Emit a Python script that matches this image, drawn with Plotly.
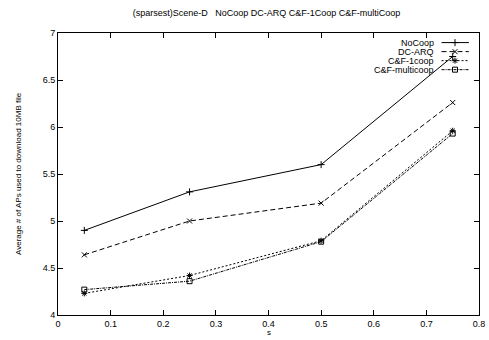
import plotly.graph_objects as go

s_vals = [0.05, 0.25, 0.5, 0.75]
nocoop = [4.90, 5.31, 5.60, 6.75]
dcarq = [4.64, 5.00, 5.19, 6.26]
cf_1coop = [4.23, 4.42, 4.79, 5.96]
cf_multicoop = [4.27, 4.36, 4.78, 5.93]

names = ["NoCoop", "DC-ARQ", "C&F-1coop", "C&F-multicoop"]
series = [nocoop, dcarq, cf_1coop, cf_multicoop]
symbols = ["cross-thin-open", "x-thin-open", "asterisk-open", "square-open"]
dashes = ["solid", "5px,3px", "2px,2px", "3px,1px,1px,1px"]
xticks = [0, 0.1, 0.2, 0.3, 0.4, 0.5, 0.6, 0.7, 0.8]
yticks = [4, 4.5, 5, 5.5, 6, 6.5, 7]

FONT = "Liberation Sans, Arial, sans-serif"
fig = go.Figure()
for n, ys, sym, d in zip(names, series, symbols, dashes):
    fig.add_trace(go.Scatter(x=s_vals, y=ys, mode="lines+markers", name=n,
                             line=dict(color="black", width=1, dash=d),
                             marker=dict(symbol=sym, size=5, color="black",
                                         line=dict(color="black", width=1)),
                             showlegend=False))

# gnuplot-style key (text right, sample on the right)
leg_y = [0.966, 0.934, 0.902, 0.870]
for n, sym, d, ly in zip(names, symbols, dashes, leg_y):
    fig.add_trace(go.Scatter(x=[0.911, 0.943, 0.976], y=[ly, ly, ly], xaxis="x2", yaxis="y2",
                             mode="lines", line=dict(color="black", width=1, dash=d),
                             showlegend=False, hoverinfo="skip"))
    fig.add_trace(go.Scatter(x=[0.943], y=[ly], xaxis="x2", yaxis="y2", mode="markers",
                             marker=dict(symbol=sym, size=5, color="black",
                                         line=dict(color="black", width=1)),
                             showlegend=False, hoverinfo="skip"))
    fig.add_annotation(x=0.898, y=ly, xref="x2", yref="y2", text=n, showarrow=False,
                       xanchor="right", yanchor="middle", font=dict(size=9, color="black", family=FONT))

fig.add_annotation(x=0, y=0.5, xref="paper", yref="paper", xshift=-40, textangle=-90,
                   text="Average # of APs used to download 10MB file", showarrow=False,
                   xanchor="center", yanchor="middle", font=dict(size=8, color="black", family=FONT))
fig.add_annotation(x=0.5, y=0, xref="paper", yref="paper", yshift=-17,
                   text="s", showarrow=False, xanchor="center", yanchor="middle",
                   font=dict(size=8, color="black", family=FONT))

fig.update_layout(
    width=489, height=340,
    margin=dict(l=58, r=10, t=33, b=25, autoexpand=False),
    paper_bgcolor="white", plot_bgcolor="white",
    font=dict(family=FONT, size=9, color="black"),
    title=dict(text="(sparsest)Scene-D   NoCoop DC-ARQ C&F-1Coop C&F-multiCoop",
               x=0.545, xanchor="center", y=0.962, yanchor="middle",
               font=dict(size=9, family=FONT, color="black")),
    xaxis=dict(range=[0, 0.8], tickvals=xticks, ticktext=[f"{v:g}" for v in xticks],
               showgrid=False, zeroline=False, showline=True, linecolor="black", linewidth=1,
               mirror="allticks", ticks="inside", ticklen=5, tickcolor="black", automargin=False),
    yaxis=dict(range=[4, 7], tickvals=yticks, ticktext=[f"{v:g}" for v in yticks],
               showgrid=False, zeroline=False, showline=True, linecolor="black", linewidth=1,
               mirror="allticks", ticks="inside", ticklen=5, tickcolor="black", automargin=False),
    xaxis2=dict(range=[0, 1], overlaying="x", visible=False, fixedrange=True),
    yaxis2=dict(range=[0, 1], overlaying="y", visible=False, fixedrange=True),
)

fig.write_html("out.html", config={"displayModeBar": False},
               post_script="document.body.style.margin='0';document.body.style.overflow='hidden';")
